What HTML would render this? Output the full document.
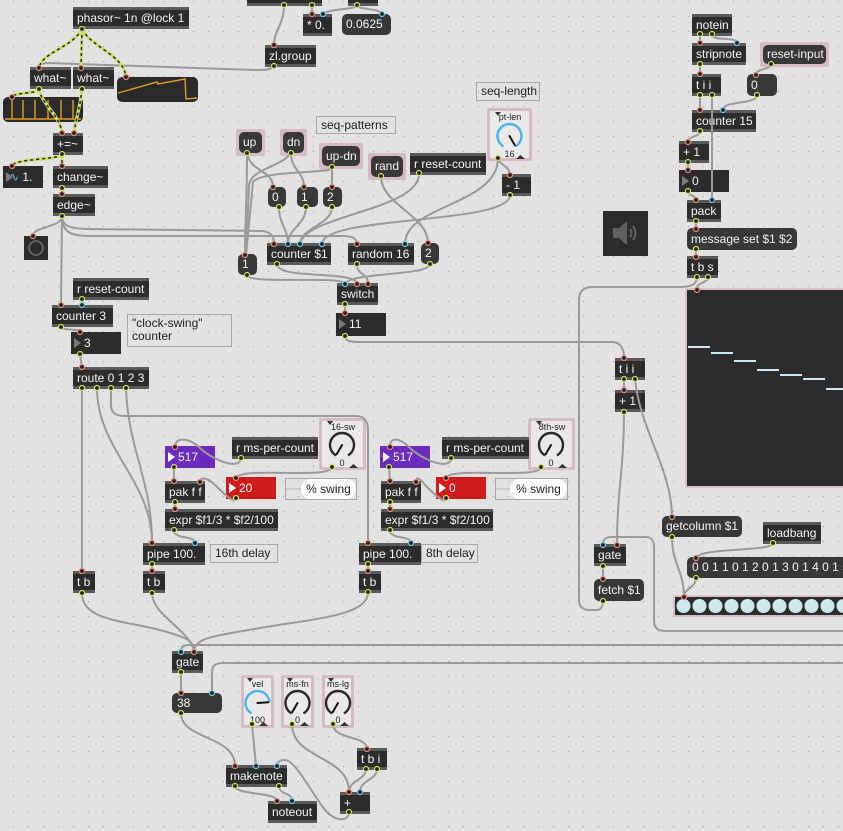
<!DOCTYPE html>
<html><head><meta charset="utf-8"><style>
html,body{margin:0;padding:0}
body{width:843px;height:831px;overflow:hidden;background:#e2e2e2;position:relative;font-family:"Liberation Sans",Arial,sans-serif}
svg{position:absolute;left:0;top:0}
.o{position:absolute;box-sizing:border-box;height:22px;background:#2c2c2c;border-top:3px solid #5a5a5a;border-bottom:3px solid #5a5a5a;color:#f4f4f4;font-size:12px;line-height:16px;padding:0 4px;white-space:nowrap}
.m{position:absolute;box-sizing:border-box;height:21px;background:#383838;border-radius:5px;color:#f4f4f4;font-size:12px;line-height:21px;padding:0 4px;white-space:nowrap;overflow:hidden}
.n{position:absolute;box-sizing:border-box;height:22px;background:#2c2c2c;color:#f4f4f4;font-size:12px;line-height:22px;padding-left:13px;white-space:nowrap}
.n:before{content:"";position:absolute;left:3px;top:6px;border-left:7px solid #7a7a7a;border-top:5px solid transparent;border-bottom:5px solid transparent}
.p{background:#6b2bbd}.r{background:#cf1b1b}
.p:before,.r:before{border-left-color:#fff}
.c{position:absolute;box-sizing:border-box;border:1px solid #a9a9a9;color:#1e1e1e;font-size:12px;line-height:15px;padding:1px 4px;white-space:nowrap}
.f{position:absolute;box-sizing:border-box;background:#d3bdc2;border-radius:2px}
.dl{position:absolute;left:3px;top:3px;right:3px;bottom:3px;background:#e9e9e9}
.fm{left:3px;top:3px;right:3px;bottom:3px;height:auto;line-height:20px}
.dk{position:absolute;background:#2c2c2c}
</style></head><body>
<svg width="843" height="831"><defs><pattern id="g" x="13" y="1" width="15" height="15" patternUnits="userSpaceOnUse"><rect width="1" height="1" fill="#a4a4a4"/></pattern></defs><rect width="843" height="831" fill="url(#g)"/></svg>

<!-- top-left signal section -->
<div class="o" style="left:73px;top:7px;width:116px">phasor~ 1n @lock 1</div>
<div class="o" style="left:30px;top:67px;width:41px">what~</div>
<div class="o" style="left:73px;top:67px;width:41px">what~</div>
<div class="o" style="left:53px;top:133px;width:30px">+=~</div>
<div class="n" style="left:3px;top:166px;width:40px;padding-left:6px"><span style="color:#5cc8e0">∿</span> 1.</div>
<div class="o" style="left:53px;top:166px;width:55px">change~</div>
<div class="o" style="left:53px;top:194px;width:42px">edge~</div>
<div class="dk" style="left:24px;top:236px;width:24px;height:24px"></div>

<!-- top middle -->
<div class="o" style="left:247px;top:-16px;width:75px"></div>
<div class="o" style="left:348px;top:-16px;width:30px"></div>
<div class="o" style="left:303px;top:14px;width:29px">* 0.</div>
<div class="m" style="left:342px;top:14px;width:49px">0.0625</div>
<div class="o" style="left:265px;top:45px;width:51px">zl.group</div>

<div class="c" style="left:476px;top:82px;width:64px;height:19px">seq-length</div>
<div class="c" style="left:316px;top:116px;width:80px;height:18px;line-height:14px">seq-patterns</div>

<div class="f" style="left:236px;top:129px;width:29px;height:27px"><div class="m fm">up</div></div>
<div class="f" style="left:280px;top:129px;width:27px;height:27px"><div class="m fm">dn</div></div>
<div class="f" style="left:319px;top:143px;width:44px;height:26px"><div class="m fm">up-dn</div></div>
<div class="f" style="left:368px;top:153px;width:38px;height:27px"><div class="m fm">rand</div></div>
<div class="o" style="left:410px;top:153px;width:76px">r reset-count</div>
<div class="o" style="left:502px;top:174px;width:29px">- 1</div>
<div class="f" style="left:487px;top:108px;width:45px;height:53px"><div class="dl"></div></div>

<div class="m" style="left:268px;top:187px;width:18px;height:20px;line-height:20px">0</div>
<div class="m" style="left:297px;top:187px;width:21px;height:20px;line-height:20px">1</div>
<div class="m" style="left:323px;top:187px;width:19px;height:20px;line-height:20px">2</div>
<div class="o" style="left:267px;top:243px;width:64px">counter $1</div>
<div class="o" style="left:348px;top:243px;width:66px">random 16</div>
<div class="m" style="left:421px;top:243px;width:18px">2</div>
<div class="m" style="left:238px;top:254px;width:19px">1</div>
<div class="o" style="left:337px;top:283px;width:41px">switch</div>
<div class="n" style="left:336px;top:313px;width:50px;height:23px">11</div>

<!-- clock swing -->
<div class="o" style="left:73px;top:278px;width:76px">r reset-count</div>
<div class="o" style="left:52px;top:305px;width:61px">counter 3</div>
<div class="c" style="left:127px;top:314px;width:105px;height:33px;line-height:13px;padding-top:2px">"clock-swing"<br>counter</div>
<div class="n" style="left:71px;top:332px;width:50px">3</div>
<div class="o" style="left:73px;top:367px;width:76px">route 0 1 2 3</div>

<!-- 16th -->
<div class="f" style="left:319px;top:418px;width:47px;height:52px"><div class="dl"></div></div>
<div class="o" style="left:232px;top:437px;width:86px">r ms-per-count</div>
<div class="n p" style="left:165px;top:446px;width:50px">517</div>
<div class="n r" style="left:226px;top:477px;width:50px">20</div>
<div class="c" style="left:285px;top:478px;width:72px;height:22px;padding:0"></div>
<div style="position:absolute;left:301px;top:479px;width:55px;height:20px;background:#fff;border-radius:10px;font-size:12px;line-height:20px;color:#1e1e1e;text-align:center">% swing</div>
<div class="o" style="left:165px;top:481px;width:40px">pak f f</div>
<div class="o" style="left:165px;top:509px;width:113px">expr $f1/3 * $f2/100</div>
<div class="o" style="left:143px;top:543px;width:62px">pipe 100.</div>
<div class="c" style="left:210px;top:544px;width:68px;height:19px">16th delay</div>

<!-- 8th -->
<div class="f" style="left:528px;top:418px;width:47px;height:52px"><div class="dl"></div></div>
<div class="o" style="left:442px;top:437px;width:87px">r ms-per-count</div>
<div class="n p" style="left:380px;top:446px;width:50px">517</div>
<div class="n r" style="left:436px;top:477px;width:50px">0</div>
<div class="c" style="left:495px;top:478px;width:73px;height:22px;padding:0"></div>
<div style="position:absolute;left:510px;top:479px;width:57px;height:20px;background:#fff;border-radius:10px;font-size:12px;line-height:20px;color:#1e1e1e;text-align:center">% swing</div>
<div class="o" style="left:381px;top:481px;width:40px">pak f f</div>
<div class="o" style="left:381px;top:509px;width:112px">expr $f1/3 * $f2/100</div>
<div class="o" style="left:359px;top:543px;width:62px">pipe 100.</div>
<div class="c" style="left:421px;top:544px;width:57px;height:19px">8th delay</div>

<div class="o" style="left:73px;top:571px;width:22px">t b</div>
<div class="o" style="left:143px;top:571px;width:22px">t b</div>
<div class="o" style="left:359px;top:571px;width:22px">t b</div>

<!-- bottom -->
<div class="o" style="left:172px;top:651px;width:31px">gate</div>
<div class="m" style="left:172px;top:693px;width:50px;height:20px;line-height:20px;padding-left:5px">38</div>
<div class="f" style="left:241px;top:675px;width:33px;height:53px"><div class="dl"></div></div>
<div class="f" style="left:281px;top:675px;width:33px;height:53px"><div class="dl"></div></div>
<div class="f" style="left:322px;top:675px;width:32px;height:53px"><div class="dl"></div></div>
<div class="o" style="left:357px;top:748px;width:30px">t b i</div>
<div class="o" style="left:226px;top:765px;width:61px">makenote</div>
<div class="o" style="left:340px;top:792px;width:30px">+</div>
<div class="o" style="left:268px;top:801px;width:49px">noteout</div>

<!-- right column -->
<div class="o" style="left:692px;top:14px;width:40px">notein</div>
<div class="o" style="left:692px;top:43px;width:54px">stripnote</div>
<div class="f" style="left:760px;top:42px;width:69px;height:25px"><div class="m fm" style="line-height:19px">reset-input</div></div>
<div class="o" style="left:692px;top:74px;width:29px">t i i</div>
<div class="m" style="left:747px;top:74px;width:30px;height:22px;line-height:22px">0</div>
<div class="o" style="left:692px;top:110px;width:64px">counter 15</div>
<div class="o" style="left:679px;top:141px;width:30px">+ 1</div>
<div class="n" style="left:679px;top:170px;width:50px">0</div>
<div class="o" style="left:687px;top:200px;width:34px">pack</div>
<div class="dk" style="left:603px;top:211px;width:45px;height:45px"></div>
<div class="m" style="left:687px;top:228px;width:110px;height:22px;line-height:22px">message set $1 $2</div>
<div class="o" style="left:687px;top:256px;width:31px">t b s</div>

<div class="f" style="left:685px;top:288px;width:170px;height:200px;background:#d3c3c6"><div class="dk" style="left:2px;top:2px;right:2px;bottom:2px"></div></div>
<div class="o" style="left:615px;top:358px;width:30px">t i i</div>
<div class="o" style="left:615px;top:390px;width:30px">+ 1</div>
<div class="m" style="left:662px;top:516px;width:80px">getcolumn $1</div>
<div class="o" style="left:763px;top:522px;width:58px">loadbang</div>
<div class="o" style="left:594px;top:544px;width:32px">gate</div>
<div class="m" style="left:687px;top:557px;width:170px;padding-left:5px">0 0 1 1 0 1 2 0 1 3 0 1 4 0 1 5</div>
<div class="m" style="left:594px;top:579px;width:50px;height:22px;line-height:22px">fetch $1</div>
<div class="f" style="left:673px;top:595px;width:180px;height:22px;background:#d3c3c6"><div class="dk" style="left:2px;top:2px;right:2px;bottom:2px"></div></div>

<svg width="843" height="831" font-family="Liberation Sans, Arial, sans-serif">
<!-- scopes -->
<rect x="117" y="77" width="81" height="25" rx="5" fill="#2a2a2a"/>
<polyline points="118,93 157,82 158,84 185,79 186,99 197,98" fill="none" stroke="#e39b25" stroke-width="1.4"/>
<rect x="3" y="97" width="80" height="25" rx="5" fill="#2a2a2a"/>
<path d="M5,119 L81,119 M12,119 L12,100 M23,119 L23,100 M35,119 L35,100 M48,119 L48,100 M61,119 L61,100 M73,119 L73,100" fill="none" stroke="#e39b25" stroke-width="1.4"/>
<!-- button -->
<circle cx="36" cy="248" r="7" fill="none" stroke="#5e5e5e" stroke-width="2"/>
<!-- ezdac -->
<path d="M613,228 H619 L627,221 V245 L619,238 H613 Z" fill="#5f5f5f"/>
<path d="M630,229 Q633,233 630,237 M633,226 Q638,233 633,240" fill="none" stroke="#5f5f5f" stroke-width="2"/>
<!-- matrix lines -->
<path d="M688,347 H710 M711,353 H733 M734,361 H756 M757,370 H779 M780,375 H802 M803,379 H825 M826,389 H843" stroke="#cfe8ee" stroke-width="2"/>
<!-- matrixctrl circles -->
<g fill="#cfe8ea">
<circle cx="683.5" cy="606" r="7"/><circle cx="699.5" cy="606" r="7"/><circle cx="715.5" cy="606" r="7"/><circle cx="731.5" cy="606" r="7"/><circle cx="747.5" cy="606" r="7"/><circle cx="763.5" cy="606" r="7"/><circle cx="779.5" cy="606" r="7"/><circle cx="795.5" cy="606" r="7"/><circle cx="811.5" cy="606" r="7"/><circle cx="827.5" cy="606" r="7"/><circle cx="843.5" cy="606" r="7"/>
</g>
<!-- dials -->
<g font-size="9" fill="#222" text-anchor="middle">
<text x="510" y="120">pt-len</text><text x="509.5" y="157">16</text>
<text x="343" y="430">16-sw</text><text x="342" y="466">0</text>
<text x="552" y="430">8th-sw</text><text x="551" y="466">0</text>
<text x="257.5" y="687">vel</text><text x="257.5" y="723">100</text>
<text x="297.5" y="687">ms-fn</text><text x="297.5" y="723">0</text>
<text x="338" y="687">ms-lg</text><text x="338" y="723">0</text>
</g>
<g fill="#333">
<polygon points="495,112 501,112 498,116"/><polygon points="516,159 525,159 520.5,155"/>
<polygon points="327,421 333,421 330,425"/><polygon points="349,468 358,468 353.5,464"/>
<polygon points="536,421 542,421 539,425"/><polygon points="558,468 567,468 562.5,464"/>
<polygon points="247,678 253,678 250,682"/><polygon points="259,726 268,726 263.5,722"/>
<polygon points="287,678 293,678 290,682"/><polygon points="300,726 309,726 304.5,722"/>
<polygon points="328,678 334,678 331,682"/><polygon points="340,726 349,726 344.5,722"/>
</g>
<g fill="none" stroke-width="2.4">
<path d="M503.5,146.4 A12,12 0 1 1 515.5,146.4" stroke="#4cb4e6"/>
<path d="M336,455.4 A12,12 0 1 1 348,455.4" stroke="#2a2a2a"/>
<path d="M545,455.4 A12,12 0 1 1 557,455.4" stroke="#2a2a2a"/>
<path d="M251.5,713.4 A12,12 0 1 1 269.5,702.2" stroke="#4cb4e6"/>
<path d="M291.5,713.4 A12,12 0 1 1 303.5,713.4" stroke="#2a2a2a"/>
<path d="M332,713.4 A12,12 0 1 1 344,713.4" stroke="#2a2a2a"/>
</g>
<g stroke="#111" stroke-width="2" stroke-linecap="round">
<path d="M509.5,136 L514.9,145.4"/>
<path d="M342,445 L336.6,454.4"/>
<path d="M551,445 L545.6,454.4"/>
<path d="M257.5,703 L268.3,702.3"/>
<path d="M297.5,703 L292.1,712.4"/>
<path d="M338,703 L332.6,712.4"/>
</g>
<!-- bubble arrows -->
<path d="M286,489 L301,489 M496,489 L510,489" stroke="#b5b5b5" stroke-width="1"/>

<!-- gray cords -->
<g fill="none" stroke="#9a9a9a" stroke-width="2" stroke-linecap="round">
<path d="M274,66 C271,70 265,70 255,70 L48,63 C41,63 39,65 39,68"/>
<path d="M284,5 C284,25 274,30 274,45"/>
<path d="M312,5 L312,14"/>
<path d="M357,5 C357,10 330,8 323,14"/>
<path d="M357,5 C357,10 380,8 382,14"/>
<path d="M62,216 C62,228 33,226 33,236"/>
<path d="M62,216 L61,305"/>
<path d="M62,216 C62,226 70,229 90,229 L262,231 C271,232 274,236 274,244"/>
<path d="M62,216 C62,232 70,236 90,236 L342,236 C352,236 357,238 357,244"/>
<path d="M247,153 C247,200 245,220 245,255"/>
<path d="M247,153 C250,172 273,170 273,187"/>
<path d="M291,153 C291,170 304,172 304,187"/>
<path d="M291,153 C280,168 252,168 249,185 L246,255"/>
<path d="M332,168 L332,187"/>
<path d="M332,168 C330,174 262,170 253,182 L246,255"/>
<path d="M381,176 C381,205 428,215 428,243"/>
<path d="M419,174 C419,210 305,215 300,244"/>
<path d="M279,207 C279,225 288,228 288,244"/>
<path d="M306,207 C306,225 288,228 288,244"/>
<path d="M332,207 C332,225 300,228 300,244"/>
<path d="M498,158 C500,166 510,166 510,175"/>
<path d="M498,158 C498,205 405,205 405,244"/>
<path d="M510,195 C510,225 322,215 322,244"/>
<path d="M277,264 C277,280 357,270 357,284"/>
<path d="M247,275 C247,285 345,275 345,284"/>
<path d="M357,264 C357,276 368,272 368,284"/>
<path d="M430,264 C430,276 350,272 345,284"/>
<path d="M345,304 L345,313"/>
<path d="M345,336 C345,341 350,342 360,342 L612,342 C620,342 624,348 624,358"/>
<path d="M82,299 L82,305"/>
<path d="M61,327 C61,331 80,328 80,332"/>
<path d="M80,354 L82,367"/>
<path d="M82,388 L82,571"/>
<path d="M97,388 C97,450 152,480 152,543"/>
<path d="M126,388 C128,450 152,480 152,543"/>
<path d="M111,388 L111,405 C111,413 116,416 125,416 L356,416 C364,416 368,421 368,430 L368,543"/>
<path d="M241,458 C241,470 215,462 200,448 C190,438 175,436 175,447"/>
<path d="M174,467 L174,481"/>
<path d="M332,467 C332,480 240,466 236,478"/>
<path d="M236,498 C236,505 225,495 215,485 C208,478 200,476 200,482"/>
<path d="M175,502 L175,509"/>
<path d="M174,530 C174,540 195,535 195,543"/>
<path d="M152,564 L152,571"/>
<path d="M451,458 C451,470 425,462 410,448 C400,438 390,436 390,447"/>
<path d="M389,467 L390,481"/>
<path d="M541,467 C541,480 450,466 446,478"/>
<path d="M446,498 C446,505 435,495 425,485 C420,478 416,476 416,482"/>
<path d="M390,502 L390,509"/>
<path d="M390,530 C390,540 411,535 411,543"/>
<path d="M368,564 L368,571"/>
<path d="M82,593 C82,620 120,620 160,630 C185,637 194,640 194,651"/>
<path d="M152,593 C152,615 190,630 194,651"/>
<path d="M368,592 C368,615 320,618 260,628 C215,636 196,637 194,651"/>
<path d="M181,652 C181,646 184,645 190,645 L843,645"/>
<path d="M181,672 L181,693"/>
<path d="M212,693 L212,672 C212,665 216,663 224,663 L843,663"/>
<path d="M181,713 C181,740 235,735 235,766"/>
<path d="M252,724 L256,766"/>
<path d="M292,724 C292,760 349,755 349,792"/>
<path d="M333,724 C333,740 367,735 367,749"/>
<path d="M366,769 C366,780 349,780 349,792"/>
<path d="M377,769 C377,780 360,780 360,792"/>
<path d="M349,812 C349,822 335,822 325,810 C310,790 295,760 285,760 C280,760 277,762 277,766"/>
<path d="M235,786 C235,795 277,792 277,801"/>
<path d="M279,786 C279,795 292,792 292,801"/>
<path d="M700,34 L700,43"/>
<path d="M712,34 C712,42 737,36 737,43"/>
<path d="M700,64 L700,74"/>
<path d="M771,64 C771,70 756,68 756,75"/>
<path d="M700,95 L700,110"/>
<path d="M712,95 L712,200"/>
<path d="M757,95 C757,105 723,100 723,110"/>
<path d="M700,131 C700,137 688,136 688,142"/>
<path d="M688,162 L688,170"/>
<path d="M688,191 C688,196 696,195 696,200"/>
<path d="M696,221 L696,229"/>
<path d="M696,249 L696,257"/>
<path d="M708,277 C708,283 697,282 697,289"/>
<path d="M697,277 C697,285 690,287 680,287 L592,287 C583,287 579,292 579,300 L579,600 C579,607 583,610 590,610 L597,610 C601,610 603,606 603,601"/>
<path d="M635,379 C640,430 672,470 672,517"/>
<path d="M624,412 C624,470 617,490 617,545"/>
<path d="M624,379 L624,390"/>
<path d="M603,545 C603,539 606,537 612,537 L646,537 C652,537 654,541 654,548 L654,621 C654,628 658,631 666,631 L843,631"/>
<path d="M603,566 L603,579"/>
<path d="M672,537 C672,565 684,570 684,597"/>
<path d="M773,543 C773,552 700,547 696,558"/>
<path d="M696,578 C696,588 684,588 684,597"/>
</g>
<!-- signal cords -->
<g fill="none" stroke="#cde06c" stroke-width="3.2" stroke-linecap="round">
<path d="M82,29 C72,48 42,52 39,68"/><path d="M82,29 L81,68"/><path d="M82,29 C92,48 124,55 126,77"/>
<path d="M39,89 C39,94 14,92 12,97"/><path d="M39,89 C42,105 60,115 62,133"/><path d="M82,89 C80,108 76,118 74,133"/>
<path d="M62,154 C62,160 14,158 12,166"/><path d="M62,154 L62,166"/><path d="M62,188 L62,194"/>
</g>
<g fill="none" stroke="#262626" stroke-width="1.5" stroke-dasharray="3 3">
<path d="M82,29 C72,48 42,52 39,68"/><path d="M82,29 L81,68"/><path d="M82,29 C92,48 124,55 126,77"/>
<path d="M39,89 C39,94 14,92 12,97"/><path d="M39,89 C42,105 60,115 62,133"/><path d="M82,89 C80,108 76,118 74,133"/>
<path d="M62,154 C62,160 14,158 12,166"/><path d="M62,154 L62,166"/><path d="M62,188 L62,194"/>
</g>
<!-- ports -->
<g fill="#222" stroke="#e88c78" stroke-width="1.2">
<circle cx="39" cy="68" r="2.5"/><circle cx="81" cy="68" r="2.5"/><circle cx="126" cy="77" r="2.5"/><circle cx="12" cy="97" r="2.5"/><circle cx="62" cy="133" r="2.5"/><circle cx="74" cy="133" r="2.5"/><circle cx="12" cy="166" r="2.5"/><circle cx="62" cy="166" r="2.5"/><circle cx="62" cy="194" r="2.5"/><circle cx="274" cy="45" r="2.5"/><circle cx="312" cy="14" r="2.5"/><circle cx="33" cy="236" r="2.5"/><circle cx="61" cy="305" r="2.5"/><circle cx="274" cy="244" r="2.5"/><circle cx="357" cy="244" r="2.5"/><circle cx="245" cy="255" r="2.5"/><circle cx="273" cy="187" r="2.5"/><circle cx="304" cy="187" r="2.5"/><circle cx="332" cy="187" r="2.5"/><circle cx="428" cy="243" r="2.5"/><circle cx="510" cy="175" r="2.5"/><circle cx="357" cy="284" r="2.5"/><circle cx="368" cy="284" r="2.5"/><circle cx="345" cy="313" r="2.5"/><circle cx="80" cy="332" r="2.5"/><circle cx="82" cy="367" r="2.5"/><circle cx="82" cy="571" r="2.5"/><circle cx="152" cy="543" r="2.5"/><circle cx="368" cy="543" r="2.5"/><circle cx="175" cy="447" r="2.5"/><circle cx="174" cy="481" r="2.5"/><circle cx="200" cy="482" r="2.5"/><circle cx="236" cy="478" r="2.5"/><circle cx="175" cy="509" r="2.5"/><circle cx="152" cy="571" r="2.5"/><circle cx="390" cy="447" r="2.5"/><circle cx="390" cy="481" r="2.5"/><circle cx="416" cy="482" r="2.5"/><circle cx="446" cy="478" r="2.5"/><circle cx="390" cy="509" r="2.5"/><circle cx="368" cy="571" r="2.5"/><circle cx="194" cy="652" r="2.5"/><circle cx="181" cy="693" r="2.5"/><circle cx="235" cy="766" r="2.5"/><circle cx="349" cy="792" r="2.5"/><circle cx="367" cy="749" r="2.5"/><circle cx="277" cy="801" r="2.5"/><circle cx="700" cy="43" r="2.5"/><circle cx="700" cy="74" r="2.5"/><circle cx="756" cy="75" r="2.5"/><circle cx="700" cy="110" r="2.5"/><circle cx="688" cy="142" r="2.5"/><circle cx="688" cy="170" r="2.5"/><circle cx="696" cy="200" r="2.5"/><circle cx="696" cy="229" r="2.5"/><circle cx="696" cy="257" r="2.5"/><circle cx="697" cy="290" r="2.5"/><circle cx="624" cy="358" r="2.5"/><circle cx="624" cy="390" r="2.5"/><circle cx="672" cy="517" r="2.5"/><circle cx="617" cy="545" r="2.5"/><circle cx="603" cy="579" r="2.5"/><circle cx="696" cy="558" r="2.5"/><circle cx="684" cy="597" r="2.5"/>
</g>
<g fill="#222" stroke="#72cde6" stroke-width="1.2">
<circle cx="323" cy="14" r="2.5"/><circle cx="382" cy="14" r="2.5"/><circle cx="82" cy="305" r="2.5"/><circle cx="288" cy="244" r="2.5"/><circle cx="300" cy="244" r="2.5"/><circle cx="322" cy="244" r="2.5"/><circle cx="405" cy="244" r="2.5"/><circle cx="345" cy="284" r="2.5"/><circle cx="195" cy="543" r="2.5"/><circle cx="411" cy="543" r="2.5"/><circle cx="181" cy="652" r="2.5"/><circle cx="212" cy="693" r="2.5"/><circle cx="256" cy="766" r="2.5"/><circle cx="277" cy="766" r="2.5"/><circle cx="360" cy="792" r="2.5"/><circle cx="292" cy="801" r="2.5"/><circle cx="737" cy="43" r="2.5"/><circle cx="723" cy="110" r="2.5"/><circle cx="712" cy="200" r="2.5"/><circle cx="603" cy="545" r="2.5"/>
</g>
<g fill="#222" stroke="#cfe05a" stroke-width="1.2">
<circle cx="82" cy="29" r="2.5"/><circle cx="39" cy="89" r="2.5"/><circle cx="82" cy="89" r="2.5"/><circle cx="62" cy="154" r="2.5"/><circle cx="62" cy="188" r="2.5"/><circle cx="62" cy="216" r="2.5"/><circle cx="284" cy="5" r="2.5"/><circle cx="312" cy="5" r="2.5"/><circle cx="357" cy="5" r="2.5"/><circle cx="274" cy="66" r="2.5"/><circle cx="247" cy="153" r="2.5"/><circle cx="291" cy="153" r="2.5"/><circle cx="332" cy="167" r="2.5"/><circle cx="381" cy="176" r="2.5"/><circle cx="419" cy="173" r="2.5"/><circle cx="498" cy="158" r="2.5"/><circle cx="510" cy="195" r="2.5"/><circle cx="279" cy="207" r="2.5"/><circle cx="306" cy="207" r="2.5"/><circle cx="332" cy="207" r="2.5"/><circle cx="277" cy="264" r="2.5"/><circle cx="247" cy="275" r="2.5"/><circle cx="357" cy="264" r="2.5"/><circle cx="430" cy="264" r="2.5"/><circle cx="345" cy="304" r="2.5"/><circle cx="345" cy="336" r="2.5"/><circle cx="82" cy="299" r="2.5"/><circle cx="61" cy="327" r="2.5"/><circle cx="80" cy="354" r="2.5"/><circle cx="82" cy="388" r="2.5"/><circle cx="97" cy="388" r="2.5"/><circle cx="111" cy="388" r="2.5"/><circle cx="126" cy="388" r="2.5"/><circle cx="241" cy="458" r="2.5"/><circle cx="174" cy="467" r="2.5"/><circle cx="332" cy="467" r="2.5"/><circle cx="236" cy="498" r="2.5"/><circle cx="175" cy="502" r="2.5"/><circle cx="174" cy="530" r="2.5"/><circle cx="152" cy="564" r="2.5"/><circle cx="82" cy="593" r="2.5"/><circle cx="152" cy="593" r="2.5"/><circle cx="451" cy="458" r="2.5"/><circle cx="389" cy="467" r="2.5"/><circle cx="541" cy="467" r="2.5"/><circle cx="446" cy="498" r="2.5"/><circle cx="390" cy="502" r="2.5"/><circle cx="390" cy="530" r="2.5"/><circle cx="368" cy="564" r="2.5"/><circle cx="368" cy="592" r="2.5"/><circle cx="181" cy="672" r="2.5"/><circle cx="181" cy="713" r="2.5"/><circle cx="252" cy="724" r="2.5"/><circle cx="292" cy="724" r="2.5"/><circle cx="333" cy="724" r="2.5"/><circle cx="366" cy="769" r="2.5"/><circle cx="377" cy="769" r="2.5"/><circle cx="349" cy="812" r="2.5"/><circle cx="235" cy="786" r="2.5"/><circle cx="279" cy="786" r="2.5"/><circle cx="700" cy="34" r="2.5"/><circle cx="712" cy="34" r="2.5"/><circle cx="700" cy="64" r="2.5"/><circle cx="771" cy="64" r="2.5"/><circle cx="700" cy="95" r="2.5"/><circle cx="712" cy="95" r="2.5"/><circle cx="757" cy="95" r="2.5"/><circle cx="700" cy="131" r="2.5"/><circle cx="688" cy="162" r="2.5"/><circle cx="688" cy="191" r="2.5"/><circle cx="696" cy="221" r="2.5"/><circle cx="696" cy="249" r="2.5"/><circle cx="697" cy="277" r="2.5"/><circle cx="708" cy="277" r="2.5"/><circle cx="624" cy="379" r="2.5"/><circle cx="635" cy="379" r="2.5"/><circle cx="624" cy="412" r="2.5"/><circle cx="672" cy="537" r="2.5"/><circle cx="773" cy="543" r="2.5"/><circle cx="696" cy="578" r="2.5"/><circle cx="603" cy="566" r="2.5"/><circle cx="603" cy="601" r="2.5"/>
</g>
</svg>
</body></html>
